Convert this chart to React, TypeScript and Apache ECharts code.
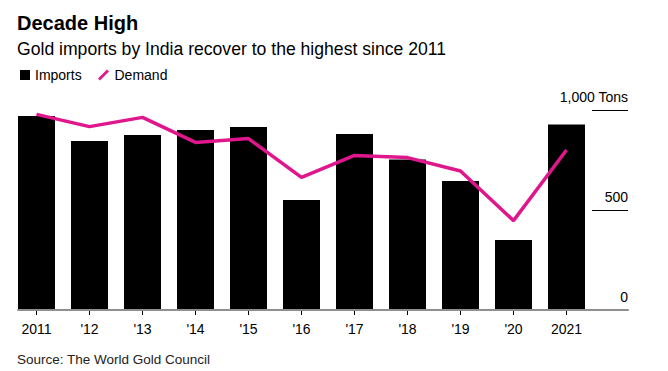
import React, { useEffect, useRef } from "react";
import * as echarts from "echarts";

const years = ["2011", "'12", "'13", "'14", "'15", "'16", "'17", "'18", "'19", "'20", "2021"];
const imports = [970, 845, 875, 900, 915, 550, 880, 753, 645, 350, 927];
const demand = [978, 917, 963, 838, 857, 663, 773, 762, 695, 447, 800];
const yTicks = [0, 500, 1000];

const FONT = "Liberation Sans, Arial, Helvetica, sans-serif";
const PINK = "#e0168c";

export default function App() {
  const ref = useRef<HTMLDivElement>(null);
  useEffect(() => {
    if (!ref.current) return;
    const chart = echarts.init(ref.current, undefined, { renderer: "svg" });
    chart.setOption({
      animation: false,
      backgroundColor: "#ffffff",
      textStyle: { fontFamily: FONT },
      title: [
        {
          text: "Decade High",
          left: 17,
          top: 13,
          padding: 0,
          textStyle: { fontSize: 20, fontWeight: "bold", color: "#000", fontFamily: FONT },
        },
        {
          text: "Gold imports by India recover to the highest since 2011",
          left: 17,
          top: 40,
          padding: 0,
          textStyle: { fontSize: 17.6, fontWeight: "normal", color: "#000", fontFamily: FONT },
        },
        {
          text: "Source: The World Gold Council",
          left: 17,
          top: 352,
          padding: 0,
          textStyle: { fontSize: 13.5, fontWeight: "normal", color: "#222", fontFamily: FONT },
        },
      ],
      legend: [
        {
          left: 20,
          top: 68,
          padding: 0,
          itemWidth: 10,
          itemHeight: 10,
          textStyle: { fontSize: 14, color: "#000", fontFamily: FONT },
          data: [{ name: "Imports", icon: "rect", itemStyle: { color: "#000" } }],
        },
        {
          left: 98,
          top: 68,
          padding: 0,
          itemWidth: 12,
          itemHeight: 11,
          textStyle: { fontSize: 14, color: "#000", fontFamily: FONT },
          data: [
            {
              name: "Demand",
              icon: "path://M0,9 L9,0 L11,2 L2,11 Z",
              itemStyle: { color: PINK },
            },
          ],
        },
      ],
      grid: [
        { left: 10, width: 583, top: 110, height: 200 },
        { left: 18, right: 40, top: 110, height: 200 },
        { left: 592, width: 36, top: 110, height: 200 },
      ],
      xAxis: [
        {
          gridIndex: 0,
          type: "category",
          data: years,
          axisLine: { show: false },
          axisTick: { show: true, alignWithLabel: true, length: 5, lineStyle: { color: "#000", width: 1 } },
          axisLabel: { color: "#000", fontSize: 14, margin: 12, fontFamily: FONT },
          splitLine: { show: false },
        },
        {
          gridIndex: 1,
          type: "value",
          min: 0,
          max: 1,
          axisLine: { show: true, onZero: false, lineStyle: { color: "#8f8f8f", width: 2 } },
          axisTick: { show: false },
          axisLabel: { show: false },
          splitLine: { show: false },
          z: 5,
        },
        {
          gridIndex: 2,
          type: "value",
          min: 0,
          max: 1,
          show: false,
        },
      ],
      yAxis: [
        { gridIndex: 0, type: "value", min: 0, max: 1000, show: false },
        { gridIndex: 1, type: "value", min: 0, max: 1000, show: false },
        {
          gridIndex: 2,
          type: "value",
          position: "right",
          min: 0,
          max: 1000,
          interval: 500,
          axisLine: { show: false },
          axisTick: { show: false },
          splitLine: { show: true, lineStyle: { color: "#000", width: 1 } },
          axisLabel: {
            inside: true,
            margin: 0,
            fontSize: 14,
            color: "#000",
            fontFamily: FONT,
            align: "right",
            verticalAlign: "bottom",
            padding: [0, 0, 6, 0],
            formatter: (v: number) =>
              v === yTicks[2] ? "1,000 Tons" : v === yTicks[1] ? "500" : v === yTicks[0] ? "0" : "",
          },
        },
      ],
      series: [
        {
          name: "Imports",
          type: "bar",
          xAxisIndex: 0,
          yAxisIndex: 0,
          data: imports,
          barWidth: 37,
          itemStyle: { color: "#000" },
          z: 2,
        },
        {
          name: "Demand",
          type: "line",
          xAxisIndex: 0,
          yAxisIndex: 0,
          data: demand,
          symbol: "none",
          lineStyle: { color: PINK, width: 3.5 },
          itemStyle: { color: PINK },
          z: 3,
        },
      ],
    });
    return () => chart.dispose();
  }, []);
  return <div ref={ref} style={{ width: 668, height: 371, position: "absolute", left: 0, top: 0 }} />;
}
